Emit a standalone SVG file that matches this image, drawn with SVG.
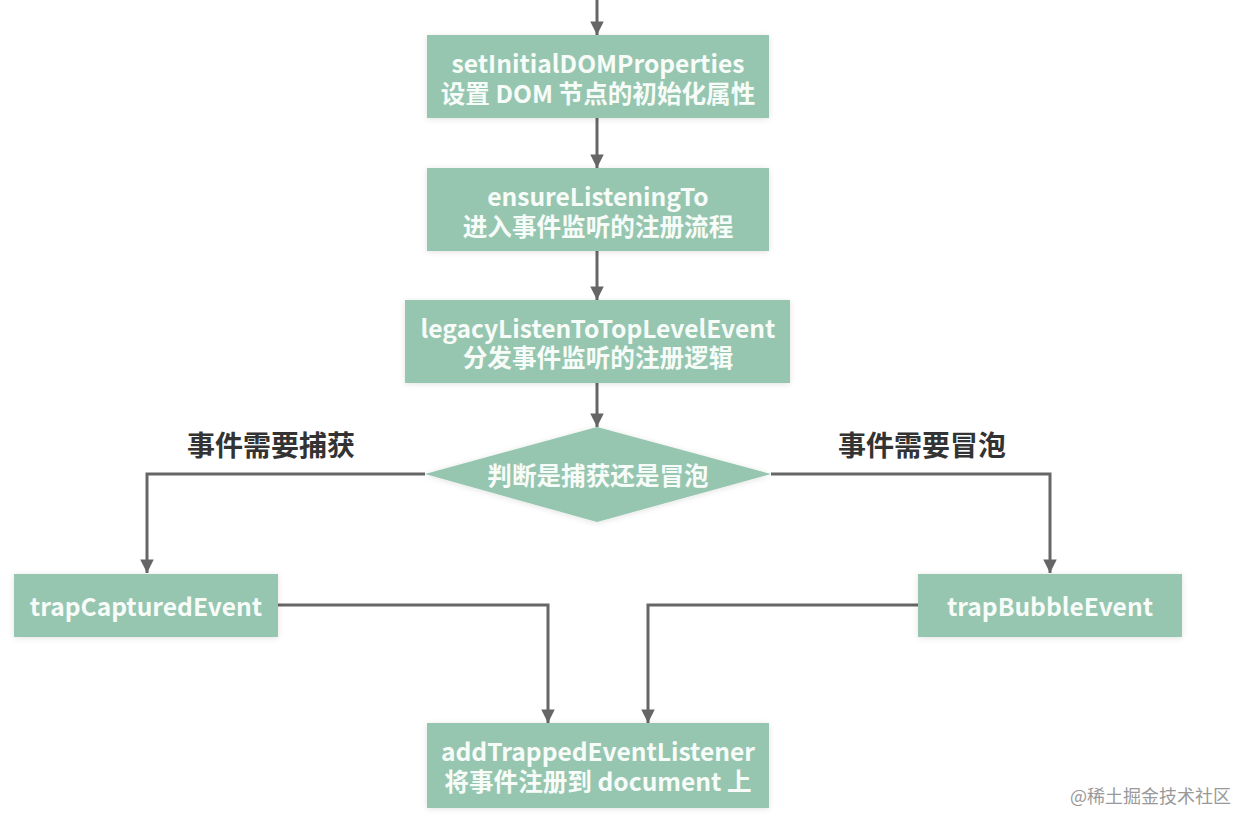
<svg xmlns="http://www.w3.org/2000/svg" width="1253" height="828" viewBox="0 0 1253 828">
<style>
.box{fill:#96c6b0;filter:url(#sh)}
.t{font-family:"Noto Sans CJK SC","Noto Sans",sans-serif;font-weight:bold;font-size:24.6px;fill:#f7fcf9;text-anchor:middle;dominant-baseline:central}
.lbl{font-family:"Noto Sans CJK SC","Noto Sans",sans-serif;font-weight:bold;font-size:28px;fill:#333;text-anchor:middle;dominant-baseline:central}
.wm{font-family:"Noto Sans CJK SC",sans-serif;font-size:18px;fill:#999;dominant-baseline:central}
.c{fill:none;stroke:#666;stroke-width:3;marker-end:url(#ah)}
</style>
<defs>
<marker id="ah" viewBox="0 0 10 10" refX="10" refY="5" markerWidth="5" markerHeight="4.5" orient="auto" markerUnits="strokeWidth">
<path d="M0,0 L10,5 L0,10 z" fill="#666"/>
</marker>
<filter id="sh" x="-10%" y="-20%" width="120%" height="140%">
<feGaussianBlur in="SourceAlpha" stdDeviation="3"/>
<feComponentTransfer><feFuncA type="linear" slope="0.12"/></feComponentTransfer>
<feOffset dy="1"/>
<feMerge><feMergeNode/><feMergeNode in="SourceGraphic"/></feMerge>
</filter>
</defs>
<rect width="1253" height="828" fill="#fff"/>
<g id="connectors">
<path class="c" d="M597,0 V35"/>
<path class="c" d="M597,118 V168"/>
<path class="c" d="M597,251 V300"/>
<path class="c" d="M597,383 V427"/>
<path class="c" d="M425,474 H147 V573"/>
<path class="c" d="M771,474 H1050 V573"/>
<path class="c" d="M278,605 H548 V723"/>
<path class="c" d="M918,605 H648 V723"/>
</g>
<g id="n1"><rect class="box" x="427" y="35" width="342" height="83"/>
<text class="t" x="598" y="62">setInitialDOMProperties</text>
<text class="t" x="598" y="92">设置 DOM 节点的初始化属性</text></g>
<g id="n2"><rect class="box" x="427" y="168" width="342" height="83"/>
<text class="t" x="598" y="195">ensureListeningTo</text>
<text class="t" x="598" y="225">进入事件监听的注册流程</text></g>
<g id="n3"><rect class="box" x="405" y="300" width="385" height="83"/>
<text class="t" x="598" y="327">legacyListenToTopLevelEvent</text>
<text class="t" x="598" y="356">分发事件监听的注册逻辑</text></g>
<g id="n4"><polygon class="box" points="597,427 771,474 597,522 425,474"/>
<text class="t" x="598" y="474">判断是捕获还是冒泡</text></g>
<g id="l1"><text class="lbl" x="271" y="444">事件需要捕获</text></g>
<g id="l2"><text class="lbl" x="922" y="444">事件需要冒泡</text></g>
<g id="n5"><rect class="box" x="14" y="574" width="264" height="63"/>
<text class="t" x="146" y="605">trapCapturedEvent</text></g>
<g id="n6"><rect class="box" x="918" y="574" width="264" height="63"/>
<text class="t" x="1050" y="605">trapBubbleEvent</text></g>
<g id="n7"><rect class="box" x="427" y="723" width="342" height="85"/>
<text class="t" x="598" y="750">addTrappedEventListener</text>
<text class="t" x="598" y="780">将事件注册到 document 上</text></g>
<text class="wm" x="1070" y="795">@稀土掘金技术社区</text>
</svg>
